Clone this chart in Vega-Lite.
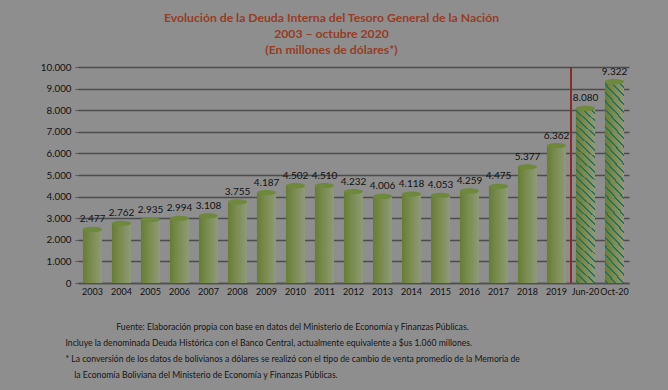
{
  "$schema": "https://vega.github.io/schema/vega-lite/v6.json",
  "width": 551,
  "height": 216,
  "autosize": "none",
  "padding": {"left": 78, "top": 67, "right": 39, "bottom": 107},
  "background": "#8e8e8e",
  "config": {
    "view": {"stroke": null},
    "font": "Lato",
    "axisY": {
      "labelOverlap": false,
      "domain": false,
      "ticks": true,
      "tickSize": 3,
      "tickColor": "#555555",
      "labelPadding": 4,
      "labelFontSize": 9.8,
      "labelColor": "#111111",
      "grid": true,
      "gridColor": "#4c4c4c",
      "gridWidth": 1.5
    }
  },
  "title": {
    "text": ["Evolución de la Deuda Interna del Tesoro General de la Nación", "2003 – octubre 2020", "(En millones de dólares*)"],
    "anchor": "middle",
    "dx": -22,
    "fontSize": 12.2,
    "fontWeight": "bold",
    "font": "Lato",
    "color": "#973c25",
    "lineHeight": 16,
    "offset": 6
  },
  "data": {
    "values": [
      {"periodo": "2003", "v": 2477},
      {"periodo": "2004", "v": 2762},
      {"periodo": "2005", "v": 2935},
      {"periodo": "2006", "v": 2994},
      {"periodo": "2007", "v": 3108},
      {"periodo": "2008", "v": 3755},
      {"periodo": "2009", "v": 4187},
      {"periodo": "2010", "v": 4502},
      {"periodo": "2011", "v": 4510},
      {"periodo": "2012", "v": 4232},
      {"periodo": "2013", "v": 4006},
      {"periodo": "2014", "v": 4118},
      {"periodo": "2015", "v": 4053},
      {"periodo": "2016", "v": 4259},
      {"periodo": "2017", "v": 4475},
      {"periodo": "2018", "v": 5377},
      {"periodo": "2019", "v": 6362},
      {"periodo": "Jun-20", "v": 8080},
      {"periodo": "Oct-20", "v": 9322}
    ]
  },
  "encoding": {
    "x": {
      "field": "periodo",
      "type": "nominal",
      "sort": null,
      "scale": {"paddingInner": 0, "paddingOuter": 0},
      "axis": {
        "labelAngle": 0,
        "labelFontSize": 9,
        "labelColor": "#111111",
        "labelPadding": 4,
        "labelOverlap": false,
        "ticks": false,
        "domainColor": "#505050",
        "domainWidth": 1.5,
        "title": [
          "\u200b\u00a0\u00a0\u00a0\u00a0\u00a0\u00a0\u00a0\u00a0\u00a0\u00a0\u00a0\u00a0\u00a0\u00a0\u00a0\u00a0\u00a0\u00a0\u00a0\u00a0\u00a0\u00a0\u00a0Fuente: Elaboración propia con base en datos del Ministerio de Economía y Finanzas Públicas.",
          "Incluye la denominada Deuda Histórica con el Banco Central, actualmente equivalente a $us 1.060 millones.",
          "* La conversión de los datos de bolivianos a dólares se realizó con el tipo de cambio de venta promedio de la Memoria de",
          "\u200b\u00a0\u00a0\u00a0\u00a0la Economía Boliviana del Ministerio de Economía y Finanzas Públicas."
        ],
        "titleAnchor": "start",
        "titleAlign": "left",
        "titleBaseline": "top",
        "titleX": -13,
        "titleY": 39,
        "titleFontSize": 8.65,
        "titleFontWeight": "normal",
        "titleColor": "#151515",
        "titleLineHeight": 16
      }
    },
    "y": {
      "field": "v",
      "type": "quantitative",
      "scale": {"domain": [0, 10000]},
      "axis": {
        "values": [0, 1000, 2000, 3000, 4000, 5000, 6000, 7000, 8000, 9000, 10000],
        "tickCount": 20,
        "labelExpr": "replace(format(datum.value, ','), ',', '.')",
        "title": null
      }
    }
  },
  "layer": [
    {
      "mark": {"type": "bar", "width": {"band": 0.66}, "color": "#000000", "opacity": 0.025},
      "encoding": {
        "y": {
          "datum": 10000,
          "type": "quantitative",
          "scale": {"domain": [0, 10000]},
          "axis": {
            "values": [0, 1000, 2000, 3000, 4000, 5000, 6000, 7000, 8000, 9000, 10000],
            "tickCount": 20,
            "labelExpr": "replace(format(datum.value, ','), ',', '.')",
            "title": null
          }
        }
      }
    },
    {
      "mark": {
        "type": "bar",
        "width": {"band": 0.66},
        "fill": {
          "gradient": "linear",
          "x1": 0, "y1": 0, "x2": 1, "y2": 0,
          "stops": [
            {"offset": 0, "color": "#677d35"},
            {"offset": 0.45, "color": "#7a8c50"},
            {"offset": 1, "color": "#8f9a7a"}
          ]
        }
      }
    },
    {
      "transform": [{"filter": {"field": "periodo", "oneOf": ["Jun-20", "Oct-20"]}}],
      "mark": {
        "type": "bar",
        "width": {"band": 0.66},
        "fill": {
          "gradient": "linear",
          "x1": 1, "y1": 0, "x2": 0.888, "y2": 1.09,
          "stops": [
            {"offset": 0, "color": "rgba(45,110,85,0)"},
            {"offset": 0.0212, "color": "rgba(45,110,85,0)"}, {"offset": 0.0212, "color": "#2d6e55"}, {"offset": 0.0308, "color": "#2d6e55"}, {"offset": 0.0308, "color": "rgba(45,110,85,0)"},
            {"offset": 0.0597, "color": "rgba(45,110,85,0)"}, {"offset": 0.0597, "color": "#2d6e55"}, {"offset": 0.0692, "color": "#2d6e55"}, {"offset": 0.0692, "color": "rgba(45,110,85,0)"},
            {"offset": 0.0981, "color": "rgba(45,110,85,0)"}, {"offset": 0.0981, "color": "#2d6e55"}, {"offset": 0.1077, "color": "#2d6e55"}, {"offset": 0.1077, "color": "rgba(45,110,85,0)"},
            {"offset": 0.1366, "color": "rgba(45,110,85,0)"}, {"offset": 0.1366, "color": "#2d6e55"}, {"offset": 0.1462, "color": "#2d6e55"}, {"offset": 0.1462, "color": "rgba(45,110,85,0)"},
            {"offset": 0.1750, "color": "rgba(45,110,85,0)"}, {"offset": 0.1750, "color": "#2d6e55"}, {"offset": 0.1846, "color": "#2d6e55"}, {"offset": 0.1846, "color": "rgba(45,110,85,0)"},
            {"offset": 0.2135, "color": "rgba(45,110,85,0)"}, {"offset": 0.2135, "color": "#2d6e55"}, {"offset": 0.2231, "color": "#2d6e55"}, {"offset": 0.2231, "color": "rgba(45,110,85,0)"},
            {"offset": 0.2520, "color": "rgba(45,110,85,0)"}, {"offset": 0.2520, "color": "#2d6e55"}, {"offset": 0.2615, "color": "#2d6e55"}, {"offset": 0.2615, "color": "rgba(45,110,85,0)"},
            {"offset": 0.2904, "color": "rgba(45,110,85,0)"}, {"offset": 0.2904, "color": "#2d6e55"}, {"offset": 0.3000, "color": "#2d6e55"}, {"offset": 0.3000, "color": "rgba(45,110,85,0)"},
            {"offset": 0.3289, "color": "rgba(45,110,85,0)"}, {"offset": 0.3289, "color": "#2d6e55"}, {"offset": 0.3385, "color": "#2d6e55"}, {"offset": 0.3385, "color": "rgba(45,110,85,0)"},
            {"offset": 0.3674, "color": "rgba(45,110,85,0)"}, {"offset": 0.3674, "color": "#2d6e55"}, {"offset": 0.3769, "color": "#2d6e55"}, {"offset": 0.3769, "color": "rgba(45,110,85,0)"},
            {"offset": 0.4058, "color": "rgba(45,110,85,0)"}, {"offset": 0.4058, "color": "#2d6e55"}, {"offset": 0.4154, "color": "#2d6e55"}, {"offset": 0.4154, "color": "rgba(45,110,85,0)"},
            {"offset": 0.4443, "color": "rgba(45,110,85,0)"}, {"offset": 0.4443, "color": "#2d6e55"}, {"offset": 0.4538, "color": "#2d6e55"}, {"offset": 0.4538, "color": "rgba(45,110,85,0)"},
            {"offset": 0.4827, "color": "rgba(45,110,85,0)"}, {"offset": 0.4827, "color": "#2d6e55"}, {"offset": 0.4923, "color": "#2d6e55"}, {"offset": 0.4923, "color": "rgba(45,110,85,0)"},
            {"offset": 0.5212, "color": "rgba(45,110,85,0)"}, {"offset": 0.5212, "color": "#2d6e55"}, {"offset": 0.5308, "color": "#2d6e55"}, {"offset": 0.5308, "color": "rgba(45,110,85,0)"},
            {"offset": 0.5597, "color": "rgba(45,110,85,0)"}, {"offset": 0.5597, "color": "#2d6e55"}, {"offset": 0.5692, "color": "#2d6e55"}, {"offset": 0.5692, "color": "rgba(45,110,85,0)"},
            {"offset": 0.5981, "color": "rgba(45,110,85,0)"}, {"offset": 0.5981, "color": "#2d6e55"}, {"offset": 0.6077, "color": "#2d6e55"}, {"offset": 0.6077, "color": "rgba(45,110,85,0)"},
            {"offset": 0.6366, "color": "rgba(45,110,85,0)"}, {"offset": 0.6366, "color": "#2d6e55"}, {"offset": 0.6462, "color": "#2d6e55"}, {"offset": 0.6462, "color": "rgba(45,110,85,0)"},
            {"offset": 0.6750, "color": "rgba(45,110,85,0)"}, {"offset": 0.6750, "color": "#2d6e55"}, {"offset": 0.6846, "color": "#2d6e55"}, {"offset": 0.6846, "color": "rgba(45,110,85,0)"},
            {"offset": 0.7135, "color": "rgba(45,110,85,0)"}, {"offset": 0.7135, "color": "#2d6e55"}, {"offset": 0.7231, "color": "#2d6e55"}, {"offset": 0.7231, "color": "rgba(45,110,85,0)"},
            {"offset": 0.7520, "color": "rgba(45,110,85,0)"}, {"offset": 0.7520, "color": "#2d6e55"}, {"offset": 0.7615, "color": "#2d6e55"}, {"offset": 0.7615, "color": "rgba(45,110,85,0)"},
            {"offset": 0.7904, "color": "rgba(45,110,85,0)"}, {"offset": 0.7904, "color": "#2d6e55"}, {"offset": 0.8000, "color": "#2d6e55"}, {"offset": 0.8000, "color": "rgba(45,110,85,0)"},
            {"offset": 0.8289, "color": "rgba(45,110,85,0)"}, {"offset": 0.8289, "color": "#2d6e55"}, {"offset": 0.8385, "color": "#2d6e55"}, {"offset": 0.8385, "color": "rgba(45,110,85,0)"},
            {"offset": 0.8674, "color": "rgba(45,110,85,0)"}, {"offset": 0.8674, "color": "#2d6e55"}, {"offset": 0.8769, "color": "#2d6e55"}, {"offset": 0.8769, "color": "rgba(45,110,85,0)"},
            {"offset": 0.9058, "color": "rgba(45,110,85,0)"}, {"offset": 0.9058, "color": "#2d6e55"}, {"offset": 0.9154, "color": "#2d6e55"}, {"offset": 0.9154, "color": "rgba(45,110,85,0)"},
            {"offset": 0.9443, "color": "rgba(45,110,85,0)"}, {"offset": 0.9443, "color": "#2d6e55"}, {"offset": 0.9538, "color": "#2d6e55"}, {"offset": 0.9538, "color": "rgba(45,110,85,0)"},
            {"offset": 0.9827, "color": "rgba(45,110,85,0)"}, {"offset": 0.9827, "color": "#2d6e55"}, {"offset": 0.9923, "color": "#2d6e55"}, {"offset": 0.9923, "color": "rgba(45,110,85,0)"},
            {"offset": 1, "color": "rgba(45,110,85,0)"}
          ]
        }
      }
    },
    {
      "mark": {
        "type": "point",
        "shape": "M-1,0A1,0.28,0,1,0,1,0A1,0.28,0,1,0,-1,0Z",
        "size": 361,
        "filled": true,
        "color": "#6e883c",
        "opacity": 1
      }
    },
    {
      "transform": [{"calculate": "replace(format(datum.v, ','), ',', '.')", "as": "etiqueta"}],
      "mark": {"type": "text", "baseline": "bottom", "dy": -5, "fontSize": 10, "color": "#111111"},
      "encoding": {
        "text": {"field": "etiqueta", "type": "nominal"}
      }
    },
    {
      "mark": {"type": "rule", "color": "#8e2a2a", "strokeWidth": 1.5},
      "encoding": {
        "x": {"datum": "Jun-20", "type": "nominal", "bandPosition": 0},
        "y": null
      }
    }
  ]
}
